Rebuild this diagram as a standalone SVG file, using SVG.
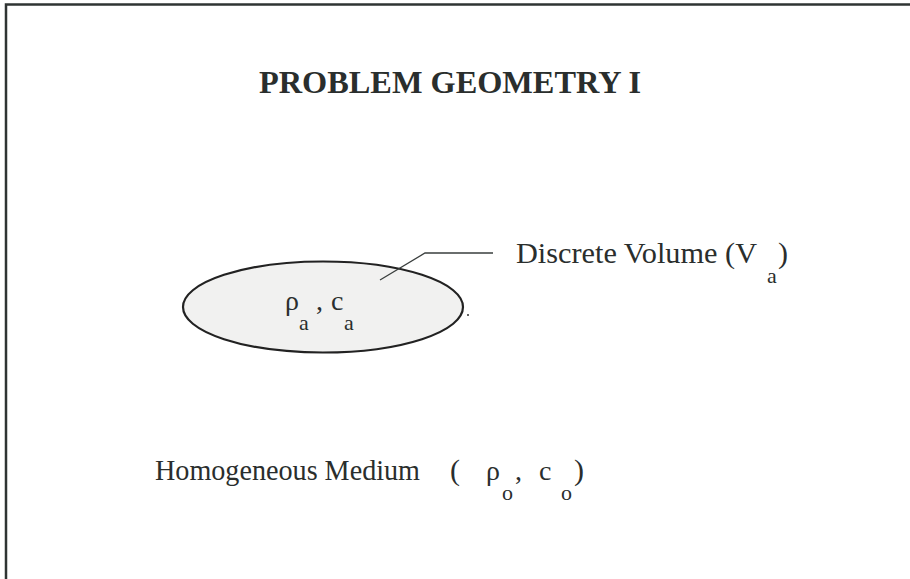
<svg xmlns="http://www.w3.org/2000/svg" width="910" height="579" viewBox="0 0 910 579">
<style>
.t{font-family:"Liberation Serif","Times New Roman",serif;fill:#2a2e2d}
.b{font-size:30px}
.s{font-size:22px}
.g{font-size:28px}
.frame{stroke:#2f3433;stroke-width:2.5;fill:none}
.ln{stroke:#3a3f3e;fill:none}
</style>
<rect width="910" height="579" fill="#ffffff"/>
<path class="frame" d="M6,579 V4.5 H910"/>
<text class="t" x="259" y="93" font-size="31" font-weight="bold" textLength="382" lengthAdjust="spacingAndGlyphs">PROBLEM GEOMETRY I</text>
<g id="volume">
<ellipse cx="323" cy="307" rx="140" ry="45.5" fill="#f1f1f0" stroke="#222" stroke-width="2.2"/>
<text class="t g" x="285" y="310">ρ</text>
<text class="t s" x="299" y="330">a</text>
<text class="t g" x="316" y="310">,</text>
<text class="t g" x="331" y="310">c</text>
<text class="t s" x="344" y="330">a</text>
<circle cx="468" cy="315" r="1" fill="#333"/>
</g>
<g id="connectors">
<path class="ln" stroke-width="1.3" d="M380,280 L425,253 H493"/>
</g>
<g id="label">
<text class="t b" x="516" y="263" textLength="241" lengthAdjust="spacingAndGlyphs">Discrete Volume (V</text>
<text class="t s" x="767" y="283">a</text>
<text class="t b" x="778" y="263">)</text>
</g>
<g id="medium">
<text class="t b" x="155" y="480" textLength="265" lengthAdjust="spacingAndGlyphs">Homogeneous Medium</text>
<text class="t b" x="450" y="480">(</text>
<text class="t g" x="486" y="480">ρ</text>
<text class="t s" x="502" y="500">o</text>
<text class="t g" x="515" y="480">,</text>
<text class="t g" x="539" y="480">c</text>
<text class="t s" x="561" y="500">o</text>
<text class="t b" x="574" y="480">)</text>
</g>
</svg>
